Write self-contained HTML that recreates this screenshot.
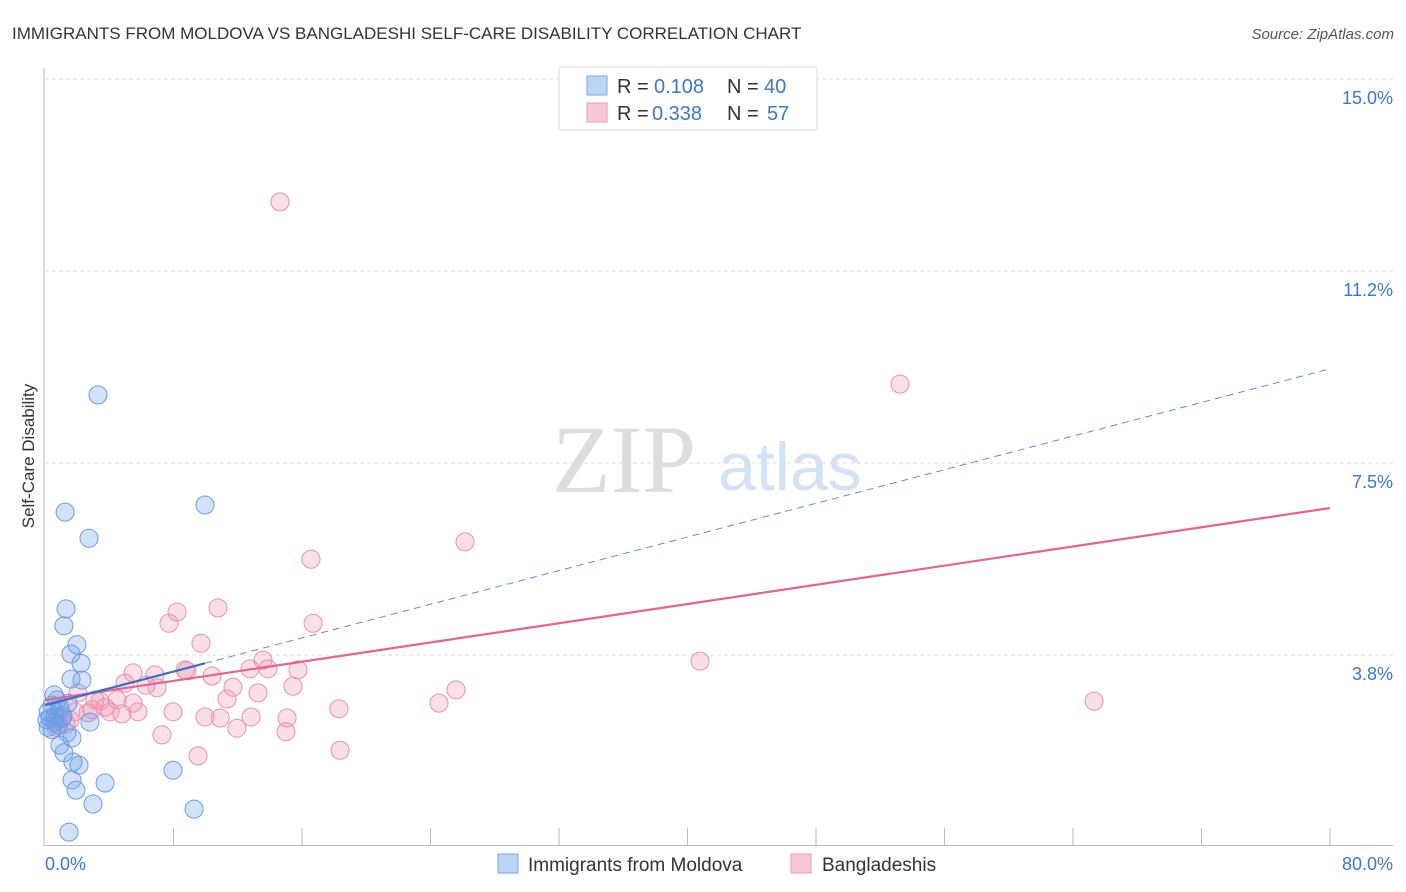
<!DOCTYPE html>
<html><head><meta charset="utf-8"><style>
body{margin:0;background:#fff;font-family:"Liberation Sans",sans-serif}
svg{display:block}
</style></head><body>
<svg id="c" width="1406" height="892">
<text x="12" y="39" font-size="17" fill="#333">IMMIGRANTS FROM MOLDOVA VS BANGLADESHI SELF-CARE DISABILITY CORRELATION CHART</text>
<text x="1394" y="39" font-size="15" fill="#555" font-style="italic" text-anchor="end">Source: ZipAtlas.com</text>
<text x="0" y="0" transform="translate(34,456) rotate(-90)" font-size="17" fill="#333" text-anchor="middle">Self-Care Disability</text>
<g><text x="552" y="492" font-family="Liberation Serif" font-size="96" fill="#ddd">ZIP</text><text x="718" y="490" font-size="68" fill="#d3e2f5">atlas</text></g>
<g id="grid"></g><g id="pts"></g><g id="lines"></g>
<g>
<rect x="559" y="67" width="258" height="63" fill="#fff" stroke="#ddd"/>
<rect x="587" y="76" width="20" height="19" fill="#bcd5f7" stroke="#7aa6e6"/>
<rect x="587" y="103" width="20" height="19" fill="#f8c8d6" stroke="#eb9bb4"/>
<text x="617" y="93" font-size="20" fill="#333">R =</text><text x="654" y="93" font-size="20" fill="#3a78d0">0.108</text><text x="727" y="93" font-size="20" fill="#333">N =</text><text x="764" y="93" font-size="20" fill="#3a78d0">40</text>
<text x="617" y="120" font-size="20" fill="#333">R =</text><text x="652" y="120" font-size="20" fill="#3a78d0">0.338</text><text x="727" y="120" font-size="20" fill="#333">N =</text><text x="767" y="120" font-size="20" fill="#3a78d0">57</text>
</g>
<g>
<rect x="498" y="854" width="20" height="19" fill="#bcd5f7" stroke="#7aa6e6"/>
<text x="528" y="871" font-size="19" fill="#333">Immigrants from Moldova</text>
<rect x="791" y="854" width="20" height="19" fill="#f8c8d6" stroke="#eb9bb4"/>
<text x="822" y="871" font-size="19" fill="#333">Bangladeshis</text>
</g>
</svg>
<script>
const yTicks=[15,11.25,7.5,3.75];
const yTickLabels=["15.0%","11.2%","7.5%","3.8%"];
const xTickLabels=["0.0%","80.0%"];
const blueX=[3.30,1.25,2.74,9.96,1.31,1.18,1.99,1.62,2.24,2.30,1.62,0.56,0.75,0.44,1.43,0.93,0.31,1.06,0.62,0.19,0.44,2.80,1.37,1.68,0.93,1.18,1.74,2.12,1.68,1.93,3.74,2.99,7.97,9.28,1.49,0.19,0.62,0.81,0.12,1.12];
const blueY=[8.83,6.54,6.03,6.68,4.65,4.32,3.95,3.77,3.59,3.26,3.28,2.97,2.87,2.77,2.81,2.68,2.52,2.52,2.44,2.34,2.29,2.44,2.23,2.13,1.99,1.84,1.66,1.60,1.31,1.11,1.25,0.84,1.50,0.74,0.29,2.64,2.56,2.38,2.48,2.56];
const pinkX=[14.63,53.23,26.15,16.56,10.77,8.22,7.72,16.69,9.71,40.78,13.57,5.48,6.85,8.84,10.40,12.76,13.88,15.75,4.98,6.29,6.97,11.70,15.44,13.26,25.59,2.05,3.42,4.48,5.48,3.74,4.05,11.33,24.53,18.30,65.31,7.97,5.79,4.79,9.96,10.90,12.83,15.07,0.81,1.56,2.68,7.28,11.95,15.00,18.37,9.53,0.93,1.87,2.93,0.68,1.31,8.72,3.11];
const pinkY=[12.60,9.04,5.96,5.62,4.67,4.59,4.37,4.37,3.98,3.63,3.65,3.40,3.36,3.44,3.34,3.48,3.48,3.46,3.20,3.16,3.11,3.12,3.14,3.01,3.07,3.01,2.85,2.87,2.81,2.73,2.64,2.89,2.81,2.70,2.85,2.64,2.64,2.60,2.54,2.52,2.54,2.52,2.50,2.48,2.62,2.19,2.32,2.25,1.89,1.78,2.75,2.64,2.68,2.34,2.40,3.46,2.87];
const blueTrend=[2.77,9.34]; const blueSolidEnd=9.96;
const pinkTrend=[2.87,6.62];
const X=v=>45+v/80*1285, Y=v=>847-v/3.75*192;
const NS="http://www.w3.org/2000/svg";
function mk(t,a,p){const e=document.createElementNS(NS,t);for(const k in a)e.setAttribute(k,a[k]);p.appendChild(e);return e;}
const grid=document.getElementById('grid');
mk('line',{x1:44,y1:68,x2:44,y2:846,stroke:'#bbb'},grid);
mk('line',{x1:44,y1:845.5,x2:1393,y2:845.5,stroke:'#bbb'},grid);
yTicks.forEach((t,i)=>{
 const l=mk('line',{x1:45,y1:Y(t),x2:1393,y2:Y(t),stroke:'#ddd','stroke-dasharray':'4,3'},grid);
 
 
 const tx=mk('text',{x:1393,y:Y(t)+25,'font-size':18,fill:'#3a78d0','text-anchor':'end'},grid);tx.textContent=yTickLabels[i];
 
 
});
for(let k=1;k<=10;k++){const x=X(k*8);mk('line',{x1:x,y1:828,x2:x,y2:845,stroke:'#bbb'},grid);}
[[0,'start',45],[1,'end',1393]].forEach(([i,a,x])=>{const t=mk('text',{x:x,y:870,'font-size':18,fill:'#3a78d0','text-anchor':a},grid);t.textContent=xTickLabels[i];
 
 });
const pts=document.getElementById('pts');
pinkX.forEach((v,i)=>{const c=mk('circle',{cx:X(v),cy:Y(pinkY[i]),r:9,fill:'rgba(243,150,180,0.3)',stroke:'#ea92ae','stroke-width':1},pts);
 
 });
blueX.forEach((v,i)=>{const c=mk('circle',{cx:X(v),cy:Y(blueY[i]),r:9,fill:'rgba(110,160,235,0.3)',stroke:'#6d9de2','stroke-width':1},pts);
 
 });
const L=document.getElementById('lines');
const by=x=>blueTrend[0]+(blueTrend[1]-blueTrend[0])*x/80;
const pl=mk('line',{x1:X(0),y1:Y(pinkTrend[0]),x2:X(80),y2:Y(pinkTrend[1]),stroke:'#e8628f','stroke-width':2.2},L);


const bd=mk('line',{x1:X(blueSolidEnd),y1:Y(by(blueSolidEnd)),x2:X(80),y2:Y(by(80)),stroke:'#5b8fd8','stroke-width':1,'stroke-dasharray':'7,5'},L);


const bs=mk('line',{x1:X(0),y1:Y(by(0)),x2:X(blueSolidEnd),y2:Y(by(blueSolidEnd)),stroke:'#3a6fc8','stroke-width':2.2},L);


</script>
</body></html>
